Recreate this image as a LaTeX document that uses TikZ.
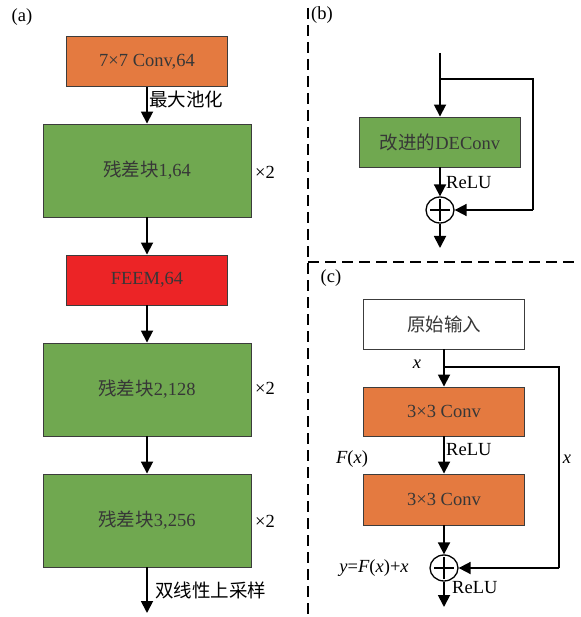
\documentclass[tikz,border=0pt]{standalone}
\usepackage{fontspec}
\setmainfont{Liberation Serif}
\newfontfamily\cjk{Noto Sans CJK SC}[Scale=1.0]
\usetikzlibrary{arrows.meta,shapes.geometric}
\definecolor{boxorange}{RGB}{228,122,64}
\definecolor{boxgreen}{RGB}{112,168,80}
\definecolor{boxred}{RGB}{236,36,38}
\definecolor{boxtext}{RGB}{55,55,55}
\definecolor{boxedge}{RGB}{60,60,60}
\begin{document}
\begin{tikzpicture}[x=1pt,y=-1pt,
  font=\fontsize{18.5}{20}\selectfont,
  blk/.style={draw=boxedge,line width=0.9pt,minimum width=161pt,minimum height=50pt,inner sep=0pt,text=boxtext},
  wideblk/.style={blk,minimum width=208pt,minimum height=93pt},
  flow/.style={line width=1.8pt,-{Triangle[width=12pt,length=12pt]}},
  line/.style={line width=1.8pt},
  sumnode/.style={draw,ellipse,line width=1.3pt,minimum width=28pt,minimum height=26pt,inner sep=0pt},
  sep/.style={line width=2pt,dash pattern=on 11pt off 6pt},
  lbl/.style={inner sep=0pt}
]
\useasboundingbox (0,0) rectangle (580,617);

% separators
\draw[sep] (308,8) -- (308,617);
\draw[sep] (308,262) -- (580,262);

% ---------- (a) ----------
\node[lbl] (la) at (22,17) {(a)};
\node[blk,fill=boxorange] (conv7) at (147,61.5) {7×7 Conv,64};
\node[wideblk,fill=boxgreen] (res1) at (147,170.5) {{\cjk 残差块}1,64};
\node[blk,fill=boxred] (feem) at (147,280) {FEEM,64};
\node[wideblk,fill=boxgreen] (res2) at (147,389.5) {{\cjk 残差块}2,128};
\node[wideblk,fill=boxgreen] (res3) at (147,520.5) {{\cjk 残差块}3,256};
\coordinate (aout) at (147,613);

\draw[flow] (conv7.south) -- (res1.north);
\draw[flow] (res1.south) -- (feem.north);
\draw[flow] (feem.south) -- (res2.north);
\draw[flow] (res2.south) -- (res3.north);
\draw[flow] (res3.south) -- (aout);

\node[lbl,anchor=west] (pool) at (149,99) {\cjk 最大池化};
\node[lbl] (t1) at (265,172) {×2};
\node[lbl] (t2) at (265,388) {×2};
\node[lbl] (t3) at (265,521) {×2};
\node[lbl,anchor=west] (up) at (155,590) {\cjk 双线性上采样};

% ---------- (b) ----------
\node[lbl] (lb) at (322,15) {(b)};
\coordinate (bin) at (440,53);
\coordinate (bbr) at (440,79);
\coordinate (bc1) at (533,79);
\coordinate (bc2) at (533,210);
\node[blk,fill=boxgreen] (deconv) at (440,142) {{\cjk 改进的}DEConv};
\node[sumnode] (bsum) at (440,210) {};
\draw[line width=1.2pt] ([xshift=-10pt]bsum.center) -- ([xshift=10pt]bsum.center);
\draw[line width=1.2pt] ([yshift=-11pt]bsum.center) -- ([yshift=11pt]bsum.center);
\coordinate (bout) at (440,248);
\draw[flow] (bin) -- (deconv.north);
\draw[line] (bbr) -- (bc1) -- (bc2);
\draw[flow] (bc2) -- (bsum.east);
\draw[flow] (deconv.south) -- (bsum.north);
\draw[flow] (bsum.south) -- (bout);
\node[lbl,anchor=west] (brelu) at (446,183) {ReLU};

% ---------- (c) ----------
\node[lbl] (lc) at (331,278) {(c)};
\node[blk,fill=white] (cin) at (444,324) {\cjk 原始输入};
\node[blk,fill=boxorange,minimum height=49pt] (cconv1) at (444,411.5) {3×3 Conv};
\node[blk,fill=boxorange,minimum height=51pt] (cconv2) at (444,499.5) {3×3 Conv};
\node[sumnode] (csum) at (444,568) {};
\draw[line width=1.2pt] ([xshift=-10pt]csum.center) -- ([xshift=10pt]csum.center);
\draw[line width=1.2pt] ([yshift=-11pt]csum.center) -- ([yshift=11pt]csum.center);
\coordinate (cbr) at (444,367);
\coordinate (cc1) at (559,367);
\coordinate (cc2) at (559,568);
\coordinate (cout) at (444,607);
\draw[flow] (cin.south) -- (cconv1.north);
\draw[line] (cbr) -- (cc1) -- (cc2);
\draw[flow] (cc2) -- (csum.east);
\draw[flow] (cconv1.south) -- (cconv2.north);
\draw[flow] (cconv2.south) -- (csum.north);
\draw[flow] (csum.south) -- (cout);

\node[lbl] (cx1) at (417,364) {\textit{x}};
\node[lbl,anchor=west] (crelu1) at (446,450) {ReLU};
\node[lbl] (cfx) at (352,459) {\textit{F}(\textit{x})};
\node[lbl] (cx2) at (567,459) {\textit{x}};
\node[lbl] (cy) at (374,568) {\textit{y}=\textit{F}(\textit{x})+\textit{x}};
\node[lbl,anchor=west] (crelu2) at (452,588) {ReLU};
\end{tikzpicture}
\end{document}
